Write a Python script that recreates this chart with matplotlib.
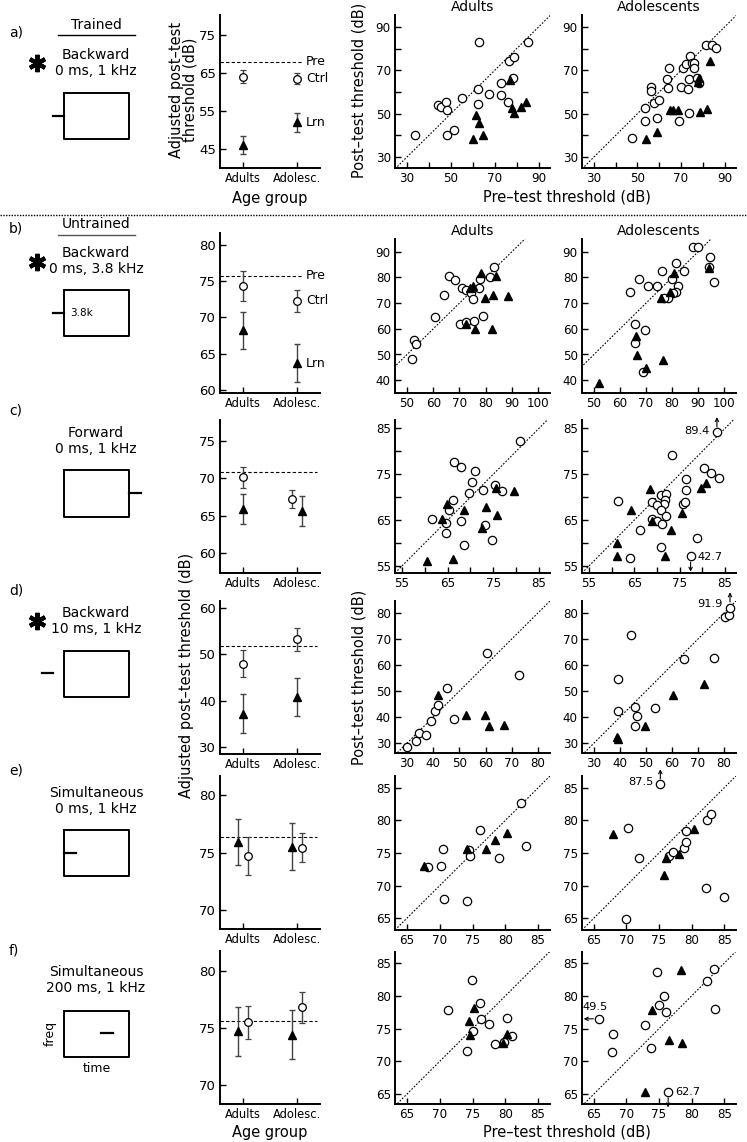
import matplotlib
matplotlib.use("Agg")
import matplotlib.pyplot as plt
from matplotlib.transforms import offset_copy
import numpy as np

plt.rcParams['font.family'] = ['DejaVu Sans']
W, H = 747, 1142

# ---------------- data: left (group means) panels ----------------
groups = ["Adults", "Adolesc."]
pre_a, pre_b, pre_c, pre_d, pre_e, pre_f = 68.0, 75.7, 70.8, 51.8, 76.3, 75.6
ctrl_a = [64.0, 63.5]; ctrl_a_err = [1.7, 1.5]
lrn_a = [46.0, 52.0]; lrn_a_err = [2.4, 2.5]
ctrl_b = [74.3, 72.3]; ctrl_b_err = [2.1, 1.5]
lrn_b = [68.2, 63.7]; lrn_b_err = [2.6, 2.6]
ctrl_c = [70.1, 67.2]; ctrl_c_err = [1.35, 1.2]
lrn_c = [65.9, 65.6]; lrn_c_err = [2.0, 1.95]
ctrl_d = [48.0, 53.2]; ctrl_d_err = [2.9, 2.5]
lrn_d = [37.2, 40.8]; lrn_d_err = [4.2, 4.1]
ctrl_e = [74.7, 75.4]; ctrl_e_err = [1.6, 1.25]
lrn_e = [75.9, 75.5]; lrn_e_err = [2.0, 2.05]
ctrl_f = [75.5, 76.8]; ctrl_f_err = [1.45, 1.35]
lrn_f = [74.7, 74.4]; lrn_f_err = [2.15, 2.15]

# ---------------- data: scatter panels (pre, post) ----------------
a_ad_ctrl_pre = [33.8, 44.4, 45.4, 47.8, 48.4, 48.1, 51.5, 55.2, 62.9, 62.5, 62.5, 67.3, 72.8, 72.8, 76.1, 76.4, 78.7, 78.4, 85.3]
a_ad_ctrl_post = [40.3, 54.0, 53.3, 55.3, 51.7, 40.3, 42.5, 57.1, 83.1, 61.2, 54.3, 59.1, 64.0, 58.6, 55.3, 74.4, 76.2, 66.7, 83.1]
a_ad_lrn_pre = [59.9, 61.7, 62.8, 64.8, 76.8, 77.9, 78.8, 82.1, 84.4]
a_ad_lrn_post = [38.3, 49.4, 45.9, 40.3, 65.5, 52.5, 50.2, 53.0, 55.6]
a_ado_ctrl_pre = [47.5, 53.5, 53.5, 56.2, 56.2, 57.7, 60.0, 58.9, 64.6, 63.5, 63.8, 69.1, 69.9, 71.1, 72.5, 74.0, 74.8, 76.0, 76.0, 73.7, 73.4, 73.7, 77.5, 78.3, 81.3, 84.1, 85.9]
a_ado_ctrl_post = [38.7, 52.5, 46.7, 62.1, 60.6, 54.8, 56.3, 47.9, 70.9, 65.8, 61.7, 46.8, 62.1, 70.9, 72.9, 76.7, 73.2, 73.5, 70.9, 66.0, 61.2, 50.5, 66.7, 64.0, 81.6, 81.9, 80.1]
a_ado_lrn_pre = [53.9, 59.2, 65.0, 66.1, 68.8, 78.3, 78.0, 78.7, 81.8, 83.1]
a_ado_lrn_post = [38.3, 41.5, 51.7, 51.7, 51.7, 66.7, 64.7, 51.0, 52.2, 74.4]

b_ad_ctrl_pre = [52.7, 53.6, 52.0, 60.6, 70.1, 72.6, 75.4, 79.0, 66.0, 68.3, 64.1, 71.1, 72.6, 78.0, 81.6, 83.1, 77.5, 74.6, 75.3]
b_ad_ctrl_post = [55.6, 53.9, 48.1, 64.6, 61.7, 62.5, 62.9, 64.9, 80.6, 79.1, 73.3, 75.8, 75.2, 79.3, 80.1, 84.2, 75.8, 73.9, 71.8]
b_ad_lrn_pre = [72.4, 75.8, 82.6, 74.2, 75.2, 78.4, 83.8, 79.8, 82.8, 88.5]
b_ad_lrn_post = [61.7, 60.1, 60.0, 75.8, 76.5, 81.6, 80.6, 71.9, 73.3, 72.9]
b_ado_ctrl_pre = [65.8, 65.8, 69.6, 68.7, 63.9, 67.5, 70.9, 74.3, 76.3, 80.1, 81.4, 84.8, 88.0, 89.9, 94.6, 96.2, 94.1, 82.3, 81.6, 80.4, 78.5, 76.8]
b_ado_ctrl_post = [61.7, 54.6, 59.4, 43.2, 74.2, 79.3, 76.5, 76.7, 82.7, 79.3, 85.5, 82.7, 91.7, 91.9, 87.8, 78.4, 84.2, 76.5, 74.5, 73.9, 72.0, 72.0]
b_ado_lrn_pre = [66.2, 66.5, 70.0, 76.6, 51.9, 80.8, 94.3, 79.4, 75.6]
b_ado_lrn_post = [57.1, 49.8, 44.9, 47.9, 38.8, 81.9, 83.6, 74.3, 72.0]

c_ad_ctrl_pre = [80.8, 66.5, 67.9, 71.1, 70.3, 69.7, 66.2, 65.3, 61.5, 64.6, 64.6, 67.9, 68.6, 72.7, 75.4, 76.8, 73.2, 74.8]
c_ad_ctrl_post = [82.3, 77.7, 76.5, 75.8, 73.2, 70.9, 69.3, 67.3, 65.3, 64.4, 62.2, 64.8, 59.7, 71.5, 72.6, 71.3, 63.9, 60.7]
c_ad_lrn_pre = [64.8, 63.8, 68.6, 73.5, 75.5, 79.6, 75.9, 72.6, 60.5, 66.2]
c_ad_lrn_post = [68.6, 65.3, 67.2, 67.9, 72.1, 71.3, 66.2, 63.2, 56.1, 56.6]
c_ado_ctrl_pre = [83.2, 73.4, 80.4, 81.9, 83.7, 76.5, 76.5, 61.4, 70.8, 71.9, 71.7, 71.6, 69.0, 70.0, 71.0, 71.9, 68.9, 70.0, 71.2, 66.3, 75.7, 76.1, 78.9, 70.8, 64.1, 77.4]
c_ado_ctrl_post = [84.1, 79.2, 76.4, 75.3, 74.2, 73.9, 71.5, 69.1, 70.5, 70.8, 69.4, 68.6, 69.0, 68.3, 67.3, 65.8, 65.3, 64.8, 64.1, 62.9, 68.5, 69.0, 61.2, 59.1, 56.8, 57.1]
c_ado_lrn_pre = [68.4, 64.3, 69.0, 73.0, 75.6, 79.8, 80.9, 61.2, 61.2, 71.7]
c_ado_lrn_post = [71.7, 67.2, 64.8, 62.9, 66.6, 71.9, 73.1, 60.0, 57.1, 57.3]

d_ad_ctrl_pre = [30.1, 33.3, 34.6, 37.1, 39.0, 40.7, 42.0, 45.1, 47.9, 60.7, 72.7]
d_ad_ctrl_post = [28.5, 31.0, 33.8, 33.3, 38.5, 42.3, 44.5, 51.3, 39.4, 64.7, 56.3]
d_ad_lrn_pre = [41.7, 52.4, 59.8, 61.4, 67.1]
d_ad_lrn_post = [48.3, 40.9, 40.9, 36.4, 37.1]
d_ado_ctrl_pre = [39.1, 44.2, 39.1, 45.8, 46.7, 45.8, 53.5, 64.6, 76.2, 80.4, 81.9, 82.3]
d_ado_ctrl_post = [54.7, 71.4, 42.2, 43.8, 40.6, 36.4, 43.5, 62.4, 62.7, 78.5, 79.1, 82.1]
d_ado_lrn_pre = [38.7, 39.1, 49.6, 60.5, 72.3]
d_ado_lrn_post = [32.3, 31.7, 36.4, 48.3, 52.8]

e_ad_ctrl_pre = [68.3, 70.2, 70.5, 70.6, 74.1, 74.4, 74.6, 76.2, 79.0, 82.4, 83.1]
e_ad_ctrl_post = [72.9, 73.0, 75.6, 68.0, 67.6, 75.5, 74.6, 78.5, 74.3, 82.6, 76.1]
e_ad_lrn_pre = [67.6, 74.1, 77.1, 78.5, 80.2]
e_ad_lrn_post = [73.0, 75.6, 75.6, 77.0, 78.0]
e_ado_ctrl_pre = [75.2, 70.2, 72.0, 70.0, 76.6, 77.2, 78.9, 79.1, 79.1, 82.3, 82.9, 82.2, 84.9]
e_ado_ctrl_post = [85.5, 78.9, 74.3, 64.9, 74.5, 75.1, 75.7, 76.7, 78.4, 80.1, 81.0, 69.7, 68.3]
e_ado_lrn_pre = [68.0, 76.1, 75.8, 78.0, 80.4]
e_ado_lrn_post = [77.9, 74.2, 71.6, 74.8, 78.7]

f_ad_ctrl_pre = [71.3, 74.9, 76.1, 76.3, 75.0, 77.5, 80.2, 74.2, 78.4, 79.8, 81.0]
f_ad_ctrl_post = [77.9, 82.4, 78.9, 76.4, 74.7, 75.7, 76.6, 71.6, 72.7, 72.9, 73.9]
f_ad_lrn_pre = [75.2, 74.4, 74.6, 80.2, 79.7]
f_ad_lrn_post = [78.1, 76.1, 74.1, 74.2, 72.8]
f_ado_ctrl_pre = [65.8, 68.0, 67.8, 72.9, 73.7, 74.7, 75.0, 75.7, 76.1, 76.4, 82.4, 83.5, 83.6]
f_ado_ctrl_post = [76.5, 74.2, 71.5, 75.6, 72.0, 83.6, 78.6, 80.0, 77.6, 65.3, 82.2, 84.1, 78.0]
f_ado_lrn_pre = [78.3, 74.0, 76.5, 78.5, 72.8]
f_ado_lrn_post = [83.9, 77.8, 73.3, 72.8, 65.3]

# off-scale values (true value printed next to clipped points)
offscale_labels = ["89.4", "42.7", "91.9", "87.5", "49.5", "62.7"]

fig = plt.figure(figsize=(W / 100, H / 100), dpi=100)


def px_axes(l, t, r, b):
    return fig.add_axes([l / W, 1 - b / H, (r - l) / W, (b - t) / H])


def style(ax):
    for s in ['top', 'right']:
        ax.spines[s].set_visible(False)
    for s in ['left', 'bottom']:
        ax.spines[s].set_linewidth(1.4)
    ax.tick_params(which='both', direction='in', length=4, width=1, labelsize=8.6, pad=3)


# ---------------- left group-mean panels ----------------
rows_left = [
    (15, 168, (40, 80.3), [45, 55, 65, 75], pre_a, ctrl_a, ctrl_a_err, lrn_a, lrn_a_err, (0, 0), (0, 0), True),
    (233, 393, (59.6, 81.6), [60, 65, 70, 75, 80], pre_b, ctrl_b, ctrl_b_err, lrn_b, lrn_b_err, (0, 0), (0, 0), True),
    (420, 573, (57.3, 77.8), [60, 65, 70, 75], pre_c, ctrl_c, ctrl_c_err, lrn_c, lrn_c_err, (0, -0.1), (0, 0.1), False),
    (601, 754, (28.5, 61.5), [30, 40, 50, 60], pre_d, ctrl_d, ctrl_d_err, lrn_d, lrn_d_err, (0, 0), (0, 0), False),
    (776, 929, (68.4, 81.6), [70, 75, 80], pre_e, ctrl_e, ctrl_e_err, lrn_e, lrn_e_err, (0.1, 0.1), (-0.1, -0.1), False),
    (951, 1104, (68.3, 81.75), [70, 75, 80], pre_f, ctrl_f, ctrl_f_err, lrn_f, lrn_f_err, (0.1, 0.1), (-0.1, -0.1), False),
]
xpos = np.array([1.0, 2.0])
for i, (t, b, yl, yt, pre, cm, ce, lm, le, coff, loff, labelled) in enumerate(rows_left):
    ax = px_axes(220, t, 320, b)
    style(ax)
    ax.set_xlim(0.57, 2.43)
    ax.set_ylim(*yl)
    ax.set_yticks(yt)
    ax.tick_params(axis='y', labelsize=9.5)
    ax.set_xticks(xpos)
    ax.set_xticklabels(groups, fontsize=8.3)
    if labelled:
        ax.hlines(pre, 0.57, 2.09, colors='k', linestyles=(0, (3, 2)), lw=0.8)
    else:
        ax.hlines(pre, 0.57, 2.38, colors='k', linestyles=(0, (3, 2)), lw=0.8)
    ax.errorbar(xpos + np.array(loff), lm, yerr=le, fmt='^', color='k', ms=5.5,
                ecolor='#444444', elinewidth=1, capsize=2, capthick=1, zorder=3)
    ax.errorbar(xpos + np.array(coff), cm, yerr=ce, fmt='o', mfc='white', mec='k', mew=0.9,
                ms=5.5, ecolor='#444444', elinewidth=1, capsize=2, capthick=1, zorder=4)
    if labelled:
        ax.text(2.17, pre, "Pre", fontsize=9, va='center', ha='left')
        ax.text(2.17, cm[1], "Ctrl", fontsize=9, va='center', ha='left')
        ax.text(2.17, lm[1], "Lrn", fontsize=9, va='center', ha='left')

# ---------------- scatter panels ----------------
scatter_rows = [
    (15, 168, (24.6, 95.2), (25, 95.5), 20, 10,
     (a_ad_ctrl_pre, a_ad_ctrl_post, a_ad_lrn_pre, a_ad_lrn_post),
     (a_ado_ctrl_pre, a_ado_ctrl_post, a_ado_lrn_pre, a_ado_lrn_post)),
    (239, 393, (45.4, 104.6), (35, 95), 10, 10,
     (b_ad_ctrl_pre, b_ad_ctrl_post, b_ad_lrn_pre, b_ad_lrn_post),
     (b_ado_ctrl_pre, b_ado_ctrl_post, b_ado_lrn_pre, b_ado_lrn_post)),
    (420, 573, (53.5, 87.4), (53.5, 86.8), 10, 5,
     (c_ad_ctrl_pre, c_ad_ctrl_post, c_ad_lrn_pre, c_ad_lrn_post),
     (c_ado_ctrl_pre, c_ado_ctrl_post, c_ado_lrn_pre, c_ado_lrn_post)),
    (601, 753, (25.4, 84.6), (26.2, 84.6), 10, 10,
     (d_ad_ctrl_pre, d_ad_ctrl_post, d_ad_lrn_pre, d_ad_lrn_post),
     (d_ado_ctrl_pre, d_ado_ctrl_post, d_ado_lrn_pre, d_ado_lrn_post)),
    (776, 930, (63.2, 86.8), (63.2, 86.8), 5, 5,
     (e_ad_ctrl_pre, e_ad_ctrl_post, e_ad_lrn_pre, e_ad_lrn_post),
     (e_ado_ctrl_pre, e_ado_ctrl_post, e_ado_lrn_pre, e_ado_lrn_post)),
    (952, 1104, (63.2, 86.8), (63.5, 86.7), 5, 5,
     (f_ad_ctrl_pre, f_ad_ctrl_post, f_ad_lrn_pre, f_ad_lrn_post),
     (f_ado_ctrl_pre, f_ado_ctrl_post, f_ado_lrn_pre, f_ado_lrn_post)),
]
major_starts = [30, 40, 55, 30, 65, 65]
xmajor_starts = [30, 50, 55, 30, 65, 65]

scatter_axes = []
for r, (t, b, xl, yl, maj, mnr, ad, ado) in enumerate(scatter_rows):
    row_axes = []
    for c, (l, rr) in enumerate([(395, 550), (582, 736)]):
        ax = px_axes(l, t, rr, b)
        style(ax)
        ax.set_xlim(*xl)
        ax.set_ylim(*yl)
        ys = major_starts[r]
        xs = xmajor_starts[r]
        ax.set_yticks(np.arange(ys, yl[1], maj))
        ax.set_xticks(np.arange(xs, xl[1], maj))
        if mnr != maj:
            ax.set_yticks(np.arange(ys, yl[1], mnr), minor=True)
            ax.set_xticks(np.arange(xs, xl[1], mnr), minor=True)
        lo = min(xl[0], yl[0]); hi = max(xl[1], yl[1])
        ax.plot([lo, hi], [lo, hi], ls=(0, (1.5, 1.5)), color='k', lw=0.8)
        d = ad if c == 0 else ado
        ax.plot(d[0], d[1], 'o', mfc='white', mec='k', ms=6, mew=0.9, ls='none', clip_on=False)
        ax.plot(d[2], d[3], '^', color='k', ms=6.2, ls='none', clip_on=False)
        row_axes.append(ax)
    scatter_axes.append(row_axes)

for ax, title in zip(scatter_axes[0], ["Adults", "Adolescents"]):
    ax.set_title(title, fontsize=10, pad=3)
for ax, title in zip(scatter_axes[1], ["Adults", "Adolescents"]):
    ax.set_title(title, fontsize=10, pad=3)


def arrow(ax, x, y, d0, d1):
    tail = offset_copy(ax.transData, fig=fig, x=d0[0], y=d0[1], units='points')
    head = offset_copy(ax.transData, fig=fig, x=d1[0], y=d1[1], units='points')
    ax.annotate('', xy=(x, y), xycoords=head, xytext=(x, y), textcoords=tail,
                arrowprops=dict(arrowstyle='->', lw=0.8, color='k', shrinkA=0, shrinkB=0,
                                mutation_scale=6), annotation_clip=False)


def note(ax, x, y, s, dx, dy, ha, va):
    ax.annotate(s, xy=(x, y), xytext=(dx, dy), textcoords='offset points',
                fontsize=8.2, ha=ha, va=va, annotation_clip=False)

# c adolescents
ax = scatter_axes[2][1]
arrow(ax, 83.2, 84.1, (0, 4), (0, 11)); note(ax, 83.2, 84.1, offscale_labels[0], -5, 1, 'right', 'center')
arrow(ax, 77.4, 57.1, (0, -4), (0, -11)); note(ax, 77.4, 57.1, offscale_labels[1], 5, -0.5, 'left', 'center')
# d adolescents
ax = scatter_axes[3][1]
arrow(ax, 82.3, 82.1, (0, 4), (0, 11)); note(ax, 82.3, 82.1, offscale_labels[2], -5, 2.5, 'right', 'center')
# e adolescents
ax = scatter_axes[4][1]
arrow(ax, 75.2, 85.5, (0, 4), (0, 11)); note(ax, 75.2, 85.5, offscale_labels[3], -5, 2, 'right', 'center')
# f adolescents
ax = scatter_axes[5][1]
arrow(ax, 65.8, 76.5, (-4, 0), (-11, 0)); note(ax, 65.8, 76.5, offscale_labels[4], -2.5, 8.5, 'center', 'center')
arrow(ax, 76.4, 65.3, (0, -4), (0, -11)); note(ax, 76.4, 65.3, offscale_labels[5], 5, 0, 'left', 'center')

# ---------------- overlay: schematics and free text ----------------
ov = fig.add_axes([0, 0, 1, 1], facecolor='none')
ov.set_xlim(0, W); ov.set_ylim(H, 0); ov.axis('off')

ov.plot([0, W], [215, 215], ls=(0, (1, 1)), color='k', lw=1)

fs = 10
for (lab, y) in [("a)", 32), ("b)", 228), ("c)", 410), ("d)", 590), ("e)", 771), ("f)", 950)]:
    ov.text(9, y, lab, fontsize=fs, va='center', ha='left')

ov.text(96, 25, "Trained", fontsize=fs, ha='center', va='center')
ov.plot([58, 135], [35, 35], color='k', lw=1)
ov.text(96, 224, "Untrained", fontsize=fs, ha='center', va='center')
ov.plot([58, 135], [235, 235], color='#555555', lw=1)

texts = [("Backward", 55), ("0 ms, 1 kHz", 71),
         ("Backward", 253), ("0 ms, 3.8 kHz", 269),
         ("Forward", 433), ("0 ms, 1 kHz", 449),
         ("Backward", 613), ("10 ms, 1 kHz", 629),
         ("Simultaneous", 793), ("0 ms, 1 kHz", 809),
         ("Simultaneous", 972), ("200 ms, 1 kHz", 988)]
for s, y in texts:
    ov.text(96, y, s, fontsize=fs, ha='center', va='center')

for y in [63, 262, 621]:
    ov.plot(37, y, marker=(6, 2, 0), ms=12.5, mew=3, color='k')

boxes = [(93, 139), (290, 336), (470, 517), (651, 697), (830, 876), (1011, 1057)]
for (t, b) in boxes:
    ov.plot([64, 129, 129, 64, 64], [t, t, b, b, t], color='k', lw=1.4)
ticks = [((53, 64), 116), ((53, 64), 313), ((129, 141), 493), ((42, 53), 673), ((64, 76), 853), ((101, 113), 1033)]
for (xx, y) in ticks:
    ov.plot(xx, [y, y], color='k', lw=1.6)
ov.text(70, 313, "3.8k", fontsize=7.5, ha='left', va='center')
ov.text(50, 1033, "freq", fontsize=9, ha='center', va='center', rotation=90)
ov.text(97, 1069, "time", fontsize=9, ha='center', va='center')

# axis labels
ov.text(177, 90, "Adjusted post\u2013test", fontsize=10.5, rotation=90, ha='center', va='center')
ov.text(190, 90, "threshold (dB)", fontsize=10.5, rotation=90, ha='center', va='center')
ov.text(186, 675, "Adjusted post\u2013test threshold (dB)", fontsize=10.5, rotation=90, ha='center', va='center')
ov.text(359, 90, "Post\u2013test threshold (dB)", fontsize=10.5, rotation=90, ha='center', va='center')
ov.text(359, 677, "Post\u2013test threshold (dB)", fontsize=10.5, rotation=90, ha='center', va='center')
ov.text(567, 197, "Pre\u2013test threshold (dB)", fontsize=10.5, ha='center', va='center')
ov.text(567, 1132, "Pre\u2013test threshold (dB)", fontsize=10.5, ha='center', va='center')
ov.text(270, 198, "Age group", fontsize=10.5, ha='center', va='center')
ov.text(270, 1132, "Age group", fontsize=10.5, ha='center', va='center')

fig.savefig("out.png", dpi=100)
